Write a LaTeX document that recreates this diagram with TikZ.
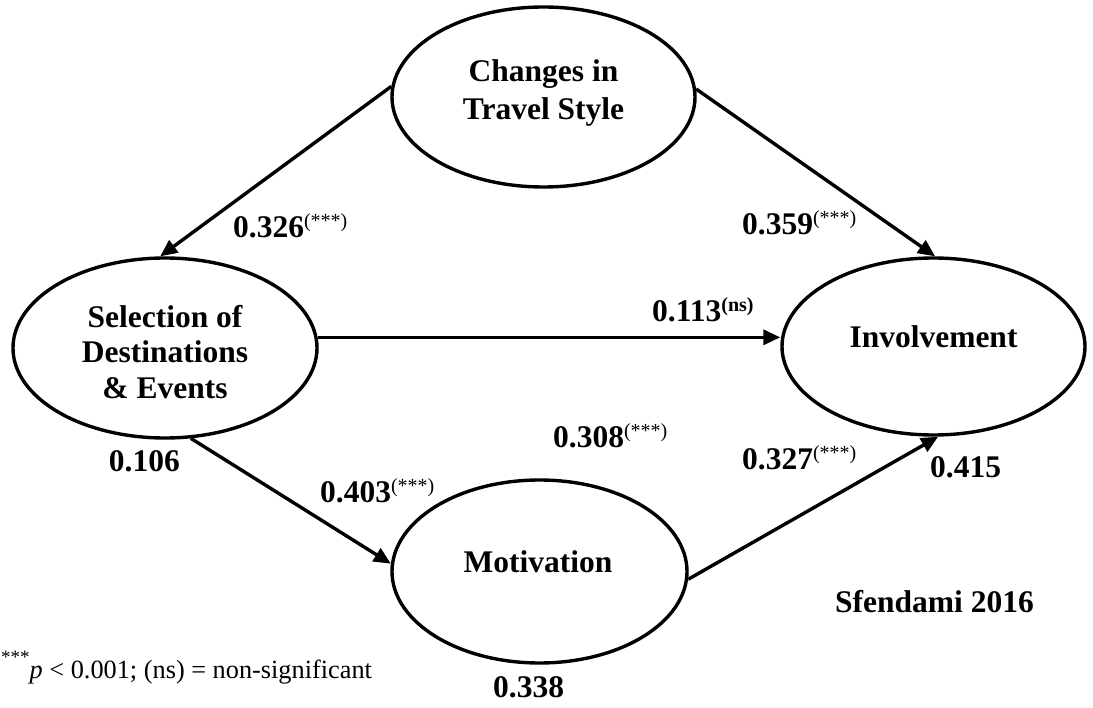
\documentclass[tikz,border=0pt]{standalone}
\usepackage{fontspec}
\setmainfont{Liberation Serif}
\usetikzlibrary{shapes.geometric,arrows.meta}
\newcommand\supst[1]{\raisebox{10pt}{\fontsize{20}{20}\selectfont\mdseries #1}}
\newcommand\supns[1]{\raisebox{10pt}{\fontsize{20}{20}\selectfont\bfseries #1}}
\tikzset{
  latent/.style={draw, ellipse, line width=3.4pt, inner sep=0pt},
  lab/.style={font=\fontsize{31.5}{37}\selectfont\bfseries, align=center, inner sep=0pt},
  num/.style={font=\fontsize{31.5}{37}\selectfont\bfseries, inner sep=0pt, anchor=base west},
  foot/.style={font=\fontsize{26.3}{30}\selectfont, inner sep=0pt, anchor=base west},
  conn/.style={line width=3.4pt, -{Triangle[length=17pt,width=15pt]}},
}
\begin{document}
\begin{tikzpicture}[x=1pt,y=-1pt]
\useasboundingbox (0,0) rectangle (1093,708);
% ellipses
\node[latent, minimum width=303pt, minimum height=180pt] (cts) at (543.5,97) {};
\node[latent, minimum width=304pt, minimum height=180pt] (sel) at (165,348) {};
\node[latent, minimum width=303pt, minimum height=177pt] (inv) at (933.5,346.5) {};
\node[latent, minimum width=295pt, minimum height=183pt] (mot) at (539.5,571.5) {};
% texts in ellipses
\node[lab, font=\fontsize{31.5}{38}\selectfont\bfseries] (tcts) at (543.5,93) {Changes in\\Travel Style};
\node[lab, font=\fontsize{31.5}{35.5}\selectfont\bfseries] (tsel) at (165,352) {Selection of\\Destinations\\\& Events};
\node[lab, anchor=base] (tinv) at (933.5,347.5) {Involvement};
\node[lab, anchor=base] (tmot) at (538,572) {Motivation};
% connectors
\draw[conn] (cts.176) -- (sel.93);
\draw[conn] (cts.3) -- (inv.89);
\draw[conn] (sel.4) -- (sel.4 -| inv.west);
\draw[conn] (sel.-74) -- (mot.177);
\draw[conn] (mot.-3) -- (inv.-87);
% coefficient labels
\node[num] (l326) at (233,238) {0.326\supst{(***)}};
\node[num] (l359) at (742,235) {0.359\supst{(***)}};
\node[num] (l113) at (652,322) {0.113\supns{(ns)}};
\node[num, anchor=base east] (l106) at (180,472) {0.106};
\node[num] (l403) at (320,503) {0.403\supst{(***)}};
\node[num] (l308) at (553,448) {0.308\supst{(***)}};
\node[num] (l327) at (742,470) {0.327\supst{(***)}};
\node[num] (l415) at (930,478) {0.415};
\node[num] (lsf) at (835,612) {Sfendami 2016};
\node[num] (l338) at (493,697) {0.338};
\node[foot] (fn) at (1,678) {\raisebox{15pt}{\fontsize{19}{19}\selectfont ***}\textit{p} < 0.001; (ns) = non-significant};
\end{tikzpicture}
\end{document}
